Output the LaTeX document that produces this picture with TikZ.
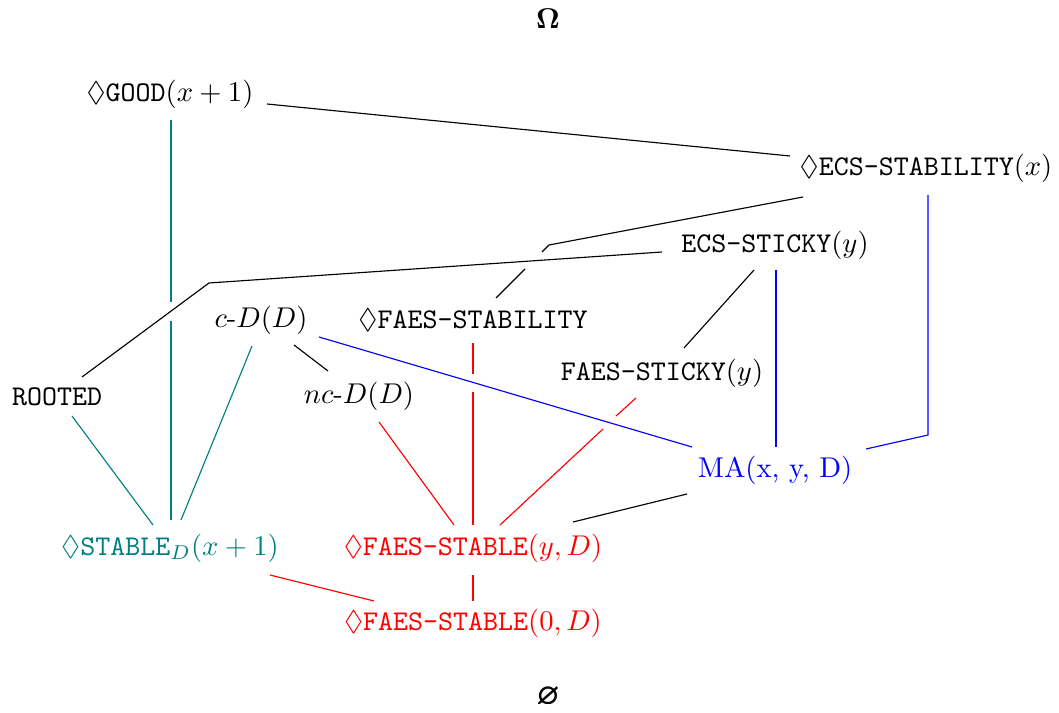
\documentclass[tikz,border=0pt]{standalone}
\usepackage{amssymb}
\usepackage{amsmath}
\usepackage{bm}
\begin{document}
\begin{tikzpicture}[x=0.35pt,y=-0.35pt,
  lbl/.style={inner sep=0pt, anchor=center},
  blk/.style={draw=black, line width=0.4pt},
  tl/.style={draw=teal, line width=0.4pt},
  rd/.style={draw=red, line width=0.4pt},
  bl/.style={draw=blue, line width=0.4pt}]
\useasboundingbox (0,0) rectangle (1059,713);
% nodes
\node[lbl] (Omega) at (548,19) {$\bm{\Omega}$};
\node[lbl] (GOOD) at (170,94) {$\Diamond\texttt{GOOD}(x+1)$};
\node[lbl] (ECSSTAB) at (926,168) {$\Diamond\texttt{ECS-STABILITY}(x)$};
\node[lbl] (ECSSTICKY) at (775,245) {$\texttt{ECS-STICKY}(y)$};
\node[lbl] (cD) at (261,320) {$c$-$D(D)$};
\node[lbl] (FAESSTAB) at (473,320) {$\Diamond\texttt{FAES-STABILITY}$};
\node[lbl] (ROOTED) at (57,397) {\texttt{ROOTED}};
\node[lbl] (ncD) at (359,396) {$nc$-$D(D)$};
\node[lbl] (FAESSTICKY) at (662,373) {$\texttt{FAES-STICKY}(y)$};
\node[lbl,text=blue] (MA) at (775,470) {MA(x, y, D)};
\node[lbl,text=teal] (STABLED) at (170,548) {$\Diamond\texttt{STABLE}_D(x+1)$};
\node[lbl,text=red] (FSy) at (473,548) {$\Diamond\texttt{FAES-STABLE}(y,D)$};
\node[lbl,text=red] (FSz) at (473,623) {$\Diamond\texttt{FAES-STABLE}(0,D)$};
\node[lbl] (Empty) at (548,697) {$\bm{\varnothing}$};
% bends and gap ends
\coordinate (v1a) at (171,302);
\coordinate (v1b) at (171,321);
\coordinate (b1) at (549,245);
\coordinate (g3a) at (542,252);
\coordinate (g3b) at (525,269);
\coordinate (b2) at (928,435);
\coordinate (b3) at (209,283);
\coordinate (g13a) at (473,374);
\coordinate (g13b) at (473,392);
\coordinate (g15a) at (616,416);
\coordinate (g15b) at (603,429);
% connectors
\draw[blk] ([shift={(97,10)}]GOOD.center) -- ([shift={(-136,-12)}]ECSSTAB.center);
\draw[tl] ([shift={(1,26)}]GOOD.center) -- (v1a);
\draw[tl] (v1b) -- ([shift={(1,-28)}]STABLED.center);
\draw[blk] ([shift={(-123,29)}]ECSSTAB.center) -- (b1) -- (g3a);
\draw[blk] (g3b) -- ([shift={(23,-22)}]FAESSTAB.center);
\draw[bl] ([shift={(2,27)}]ECSSTAB.center) -- (b2) -- ([shift={(91,-21)}]MA.center);
\draw[blk] ([shift={(-113,7)}]ECSSTICKY.center) -- (b3) -- ([shift={(25,-20)}]ROOTED.center);
\draw[blk] ([shift={(-21,25)}]ECSSTICKY.center) -- ([shift={(22,-25)}]FAESSTICKY.center);
\draw[bl] ([shift={(1,25)}]ECSSTICKY.center) -- ([shift={(1,-23)}]MA.center);
\draw[tl] ([shift={(-9,26)}]cD.center) -- ([shift={(11,-28)}]STABLED.center);
\draw[blk] ([shift={(33,25)}]cD.center) -- ([shift={(-31,-25)}]ncD.center);
\draw[bl] ([shift={(58,17)}]cD.center) -- ([shift={(-83,-23)}]MA.center);
\draw[tl] ([shift={(15,19)}]ROOTED.center) -- ([shift={(-17,-23)}]STABLED.center);
\draw[rd] ([shift={(0,23)}]FAESSTAB.center) -- (g13a);
\draw[rd] (g13b) -- ([shift={(0,-23)}]FSy.center);
\draw[rd] ([shift={(20,26)}]ncD.center) -- ([shift={(-19,-23)}]FSy.center);
\draw[rd] ([shift={(-26,25)}]FAESSTICKY.center) -- (g15a);
\draw[rd] (g15b) -- ([shift={(27,-23)}]FSy.center);
\draw[blk] ([shift={(-88,24)}]MA.center) -- ([shift={(100,-26)}]FSy.center);
\draw[rd] ([shift={(100,27)}]STABLED.center) -- ([shift={(-99,-22)}]FSz.center);
\draw[rd] ([shift={(0,27)}]FSy.center) -- ([shift={(0,-22)}]FSz.center);
\end{tikzpicture}
\end{document}
